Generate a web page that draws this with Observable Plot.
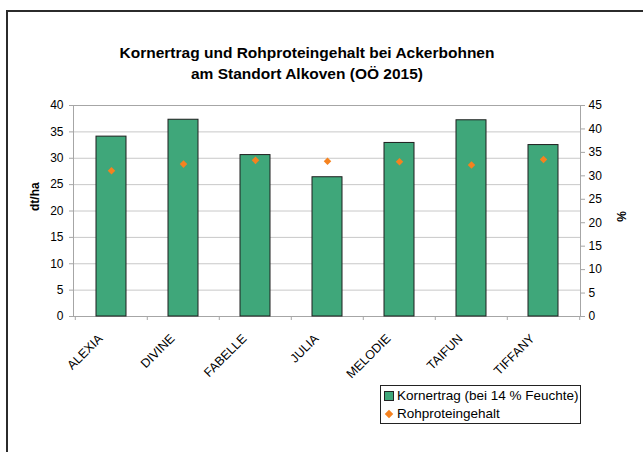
<!DOCTYPE html>
<html><head><meta charset="utf-8">
<script src="https://cdn.jsdelivr.net/npm/d3@7"></script>
<script src="https://cdn.jsdelivr.net/npm/@observablehq/plot@0.6"></script>
<style>
body{margin:0;overflow:hidden;background:#fff;font-family:"Liberation Sans",Arial,sans-serif;}
#wrap{position:relative;width:643px;height:452px;overflow:hidden;background:#fff;}
#frame{position:absolute;left:6px;top:10px;width:700px;height:500px;border:2px solid #2b2b2b;box-sizing:border-box;}
#title{position:absolute;left:0;width:614px;top:42px;text-align:center;font-weight:bold;font-size:15.5px;line-height:21px;color:#000;}
#chart{position:absolute;left:0;top:0;}
#legend{position:absolute;left:380px;top:385px;width:201px;height:39px;border:1px solid #222;box-sizing:border-box;font-size:13.5px;color:#000;background:#fff;}
.row{position:absolute;left:0;height:18px;line-height:18px;white-space:nowrap;}
.sw{position:absolute;left:3px;top:4px;width:10px;height:10px;background:#3fa77a;border:1px solid #222;box-sizing:border-box;}
.dm{position:absolute;left:5px;top:6px;width:6px;height:6px;background:#f5821f;transform:rotate(45deg);}
.lt{position:absolute;left:16px;top:0;}
</style></head>
<body>
<div id="wrap">
  <div id="frame"></div>
  <div id="chart"></div>
  <div id="title">Kornertrag und Rohproteingehalt bei Ackerbohnen<br>am Standort Alkoven (OÖ 2015)</div>
  <div id="legend">
    <div class="row" style="top:1px"><div class="sw"></div><span class="lt">Kornertrag (bei 14 % Feuchte)</span></div>
    <div class="row" style="top:19px"><div class="dm"></div><span class="lt">Rohproteingehalt</span></div>
  </div>
</div>
<script>
const sorten = ["ALEXIA","DIVINE","FABELLE","JULIA","MELODIE","TAIFUN","TIFFANY"];
const kornertrag = [34.1, 37.3, 30.6, 26.4, 32.9, 37.2, 32.5];
const rohprotein = [31.1, 32.5, 33.3, 33.1, 33.0, 32.3, 33.5];
const leftTicks = [0,5,10,15,20,25,30,35,40];
const rightTicks = [0,5,10,15,20,25,30,35,40,45];

const data = sorten.map((s,i)=>({sorte:s, ertrag:kornertrag[i], protein:rohprotein[i]}));
const rScale = 40/45;
const W = 643, H = 452, mL = 73, mR = 63, mT = 105, mB = 136;
const step = (W - mL - mR) / sorten.length;

const chart = Plot.plot({
  width: W, height: H,
  marginLeft: mL, marginRight: mR, marginTop: mT, marginBottom: mB,
  x: {domain: sorten, paddingInner: 0.59, paddingOuter: 0.295, label: null},
  y: {domain: [0,40], label: null},
  style: {fontFamily: "'Liberation Sans', Arial, sans-serif", fontSize: "12px", color: "#000", background: "transparent"},
  marks: [
    Plot.gridY(leftTicks, {stroke: "#c8c8c8", strokeOpacity: 1}),
    Plot.frame({stroke: "#a6a6a6"}),
    Plot.barY(data, {x: "sorte", y: "ertrag", fill: "#3fa77a", stroke: "#1e1e1e", strokeWidth: 1}),
    Plot.dot(data, {x: "sorte", y: d => d.protein * rScale, symbol: "diamond2", r: 3.4, fill: "#f5821f", stroke: null}),
    Plot.axisY(leftTicks, {anchor: "left", tickSize: 4, tickPadding: 6, stroke: "#a6a6a6", label: null, fontSize: 12}),
    Plot.axisY(rightTicks.map(v => v * rScale), {anchor: "right", tickSize: 4, tickPadding: 4, stroke: "#a6a6a6", tickFormat: v => Math.round(v / rScale), label: null, fontSize: 12}),
    Plot.axisX({tickSize: 0, tickRotate: -45, tickPadding: 20, dx: -11, label: null, fontSize: 12.5}),
    Plot.ruleX(sorten, {x: d => d, dx: -step/2, y1: 0, y2: -0.76, stroke: "#a6a6a6"}),
    Plot.ruleX(sorten.slice(-1), {x: d => d, dx: step/2, y1: 0, y2: -0.76, stroke: "#a6a6a6"}),
    Plot.text(["dt/ha"], {frameAnchor: "left", dx: -38, rotate: -90, fontWeight: "bold", fontSize: 12}),
    Plot.text(["%"], {frameAnchor: "right", dx: 42, rotate: -90, fontWeight: "bold", fontSize: 12})
  ]
});
document.getElementById("chart").appendChild(chart);
</script>
</body></html>
